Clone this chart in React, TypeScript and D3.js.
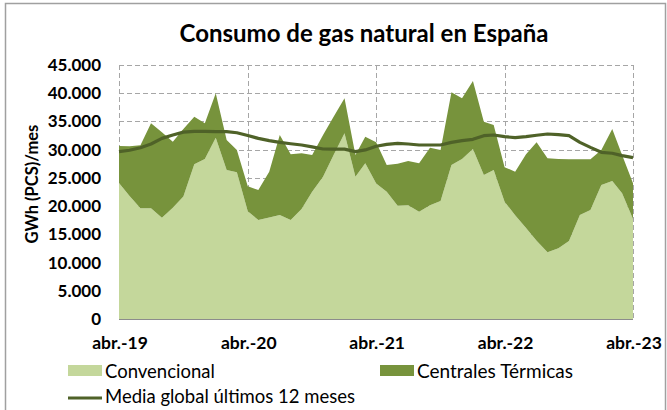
import React from "react";
import * as d3 from "d3";

const startMonth = new Date(2019, 3, 1);
const convencional = [
  24100, 21800, 19600, 19600, 17950, 19700, 21700, 27400, 28350, 32100, 26400, 26000,
  19100, 17540, 18000, 18430, 17540, 19500, 22560, 25220, 29060, 32900, 25220, 27590,
  24000, 22560, 20080, 20170, 19000, 20170, 20900, 27300, 28350, 30120, 25500, 26400,
  20790, 18370, 16120, 13880, 11810, 12530, 13820, 18430, 19310, 23740, 24450, 22270,
  17720,
];
const centralesTermicas = [
  6550, 8800, 11200, 15100, 15130, 11700, 11970, 8450, 6350, 7900, 5300, 3950,
  4400, 5320, 8100, 14170, 11640, 9860, 6500, 7380, 6790, 6200, 3840, 4710,
  7300, 4740, 7420, 7830, 8590, 10180, 9050, 12870, 10750, 12050, 9460, 7980,
  6110, 7730, 13060, 17420, 16660, 15820, 14480, 9870, 8990, 6210, 9220, 6790,
  6320,
];
const mediaGlobal = [
  29650, 29900, 30350, 31000, 32000, 32600, 33100, 33250, 33250, 33200, 33200, 33000,
  32500, 32000, 31600, 31300, 31050, 30830, 30500, 30120, 30100, 30100, 29650, 29950,
  30600, 30950, 31130, 31000, 30830, 30830, 30830, 31300, 31600, 31830, 32480, 32600,
  32300, 32130, 32300, 32550, 32780, 32650, 32480, 31300, 30400, 29530, 29360, 28940,
  28590,
];
const yTicks = [0, 5000, 10000, 15000, 20000, 25000, 30000, 35000, 40000, 45000];
const xLabelYears = [2019, 2020, 2021, 2022, 2023];
const title = "Consumo de gas natural en España";
const yTitle = "GWh (PCS)/mes";
const legendNames = ["Convencional", "Centrales Térmicas", "Media global últimos 12 meses"];

const colors = { conv: "#c4d79b", term: "#77933c", line: "#4f6228", grid: "#a6a6a6" };

export default function App() {
  const W = 667, H = 410;
  const dates = convencional.map((_, i) => d3.timeMonth.offset(startMonth, i));
  const x = d3.scaleTime().domain([dates[0], dates[dates.length - 1]]).range([119, 633]);
  const y = d3.scaleLinear().domain([0, 45000]).range([319, 65]);
  const rows = dates.map((d, i) => ({
    d,
    c: convencional[i],
    t: convencional[i] + centralesTermicas[i],
    m: mediaGlobal[i],
  }));
  const areaConv = d3.area<any>().x((r) => x(r.d)).y0(y(0)).y1((r) => y(r.c))(rows) || "";
  const areaTerm = d3.area<any>().x((r) => x(r.d)).y0((r) => y(r.c)).y1((r) => y(r.t))(rows) || "";
  const line = d3.line<any>().x((r) => x(r.d)).y((r) => y(r.m))(rows) || "";
  const tickDates = d3.timeMonth.every(6)!.range(dates[0], d3.timeMonth.offset(dates[dates.length - 1], 1))
    .filter((d) => (d.getMonth() - 3) % 6 === 0);
  const yearDates = xLabelYears.map((yr) => new Date(yr, 3, 1));
  const fmt = (v: number) => (v === 0 ? "0" : d3.format(",")(v).replace(/,/g, "."));
  const font = "Lato, 'Open Sans', sans-serif";

  return (
    <div style={{ position: "absolute", left: 0, top: 0 }}>
      <svg width={W} height={H} style={{ display: "block", fontFamily: font }}>
        <rect x={0} y={0} width={W} height={H} fill="#fff" />
        <rect x={5.5} y={3.5} width={660} height={430} fill="none" stroke="#a0a0a0" strokeWidth={1.5} />
        <text x={364} y={42} textAnchor="middle" fontSize={24} fontWeight={700} fill="#000">{title}</text>
        {/* grid */}
        {yTicks.filter((v) => v > 0).map((v) => (
          <line key={"gy" + v} x1={119} x2={633} y1={Math.round(y(v)) + 0.5} y2={Math.round(y(v)) + 0.5}
            stroke={colors.grid} strokeDasharray="5,3" strokeWidth={1} />
        ))}
        {yearDates.map((d) => (
          <line key={"gx" + d.getFullYear()} x1={Math.round(x(d)) + 0.5} x2={Math.round(x(d)) + 0.5} y1={y(45000)} y2={y(0)}
            stroke={colors.grid} strokeDasharray="5,3" strokeWidth={1} />
        ))}
        <path d={areaConv} fill={colors.conv} />
        <path d={areaTerm} fill={colors.term} />
        <path d={line} fill="none" stroke={colors.line} strokeWidth={3.2} strokeLinejoin="round" />
        {/* x axis */}
        <line x1={119} x2={633} y1={319.5} y2={319.5} stroke="#8c8c8c" strokeWidth={1} />
        {tickDates.map((d, i) => (
          <line key={"t" + i} x1={Math.round(x(d)) + 0.5} x2={Math.round(x(d)) + 0.5} y1={319} y2={325} stroke="#8c8c8c" />
        ))}
        {yearDates.map((d) => (
          <text key={"xl" + d.getFullYear()} x={x(d) + 1} y={349} textAnchor="middle" fontSize={17.5} fontWeight={700}>
            {"abr.-" + String(d.getFullYear()).slice(2)}
          </text>
        ))}
        {yTicks.map((v) => (
          <text key={"yl" + v} x={101} y={y(v) + 6} textAnchor="end" fontSize={17} fontWeight={700}>{fmt(v)}</text>
        ))}
        <text transform="translate(38,184) rotate(-90)" textAnchor="middle" fontSize={16.5} fontWeight={700}>{yTitle}</text>
        {/* legend */}
        <rect x={68} y={365} width={34} height={11} fill={colors.conv} />
        <text x={105} y={378} fontSize={18.5}>{legendNames[0]}</text>
        <rect x={380} y={365} width={34} height={11} fill={colors.term} />
        <text x={417} y={378} fontSize={18.5} textLength={156} lengthAdjust="spacingAndGlyphs">{legendNames[1]}</text>
        <line x1={68} x2={102} y1={398} y2={398} stroke={colors.line} strokeWidth={3.2} />
        <text x={105} y={403} fontSize={18.5}>{legendNames[2]}</text>
      </svg>
    </div>
  );
}
